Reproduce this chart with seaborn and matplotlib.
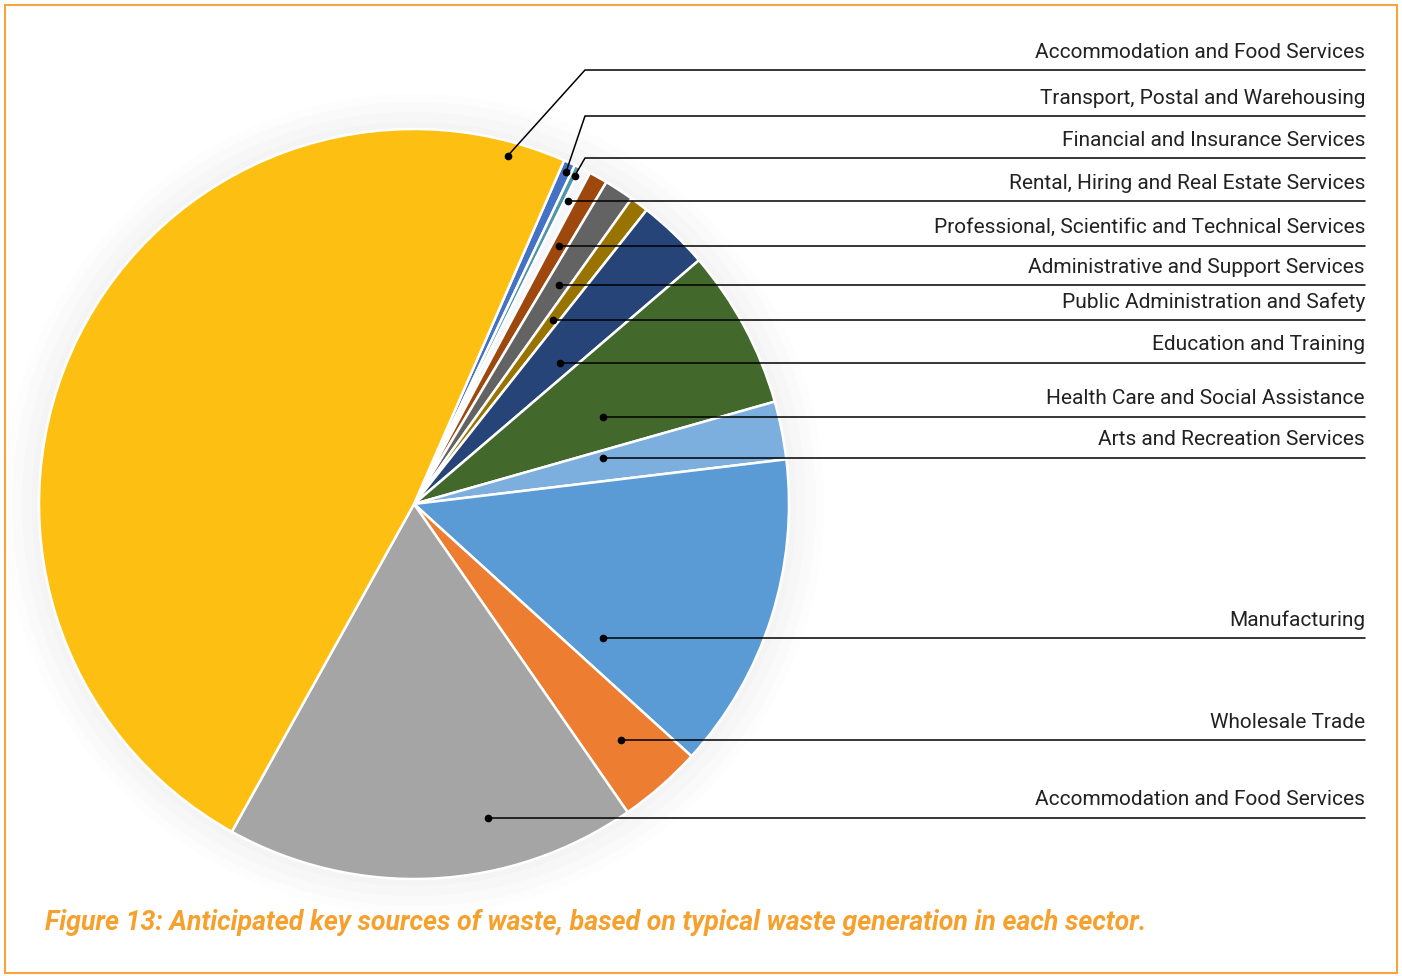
import matplotlib
matplotlib.use('Agg')
import matplotlib.pyplot as plt
import seaborn as sns
import numpy as np
from matplotlib.patches import Circle, Rectangle

sns.set_theme(style='white')
plt.rcParams['font.family'] = ['Roboto', 'DejaVu Sans']

# data, in clockwise order starting just right of the yellow slice
sectors = ['Transport, Postal and Warehousing',
           'Financial and Insurance Services',
           'Rental, Hiring and Real Estate Services',
           'Professional, Scientific and Technical Services',
           'Administrative and Support Services',
           'Public Administration and Safety',
           'Education and Training',
           'Health Care and Social Assistance',
           'Arts and Recreation Services',
           'Manufacturing',
           'Wholesale Trade',
           'Accommodation and Food Services',
           'Accommodation and Food Services']
shares = [0.50, 0.28, 0.44, 0.80, 1.28, 0.80, 3.08, 6.86, 2.50, 13.64, 3.61, 17.72, 48.47]
colors = ['#4472C4', '#4E95A8', '#F4F6FA', '#9E480E', '#636363', '#997300', '#264478',
          '#43682B', '#7CAFDD', '#5B9BD5', '#ED7D31', '#A5A5A5', '#FCBF12']

# label layout: where the dot sits inside each wedge (angle fraction, radius fraction)
dot_t = [0.56, 0.70, 0.34, 0.47, 0.60, 0.54, 0.68, 0.64, 0.24, 0.86, 0.50, 0.336, 0.951]
dot_r = [0.973, 0.975, 0.906, 0.79, 0.70, 0.615, 0.541, 0.555, 0.519, 0.618, 0.837, 0.86, 0.961]
bend_y = [116, 158, None, None, None, None, None, None, None, None, None, None, 70]  # px from top

W, H = 1402, 976
fig = plt.figure(figsize=(W / 100, H / 100), dpi=100)
ax = fig.add_axes([0, 0, 1, 1])

cx, cy, R = 414, H - 504, 375

# faint shadow ring round the pie
for r, c in [(410, '#fdfdfd'), (402, '#fafafa'), (392, '#f7f7f7'), (382, '#f4f4f4')]:
    ax.add_patch(Circle((cx, cy), r, color=c, lw=0, zorder=0))

wedges, _ = ax.pie(shares, colors=colors, startangle=66.4, counterclock=False,
                   center=(cx, cy), radius=R, frame=True,
                   wedgeprops=dict(edgecolor='white', linewidth=1.8))

x_end = 1365
for i, w in enumerate(wedges):
    ang = np.deg2rad(w.theta2 - dot_t[i] * (w.theta2 - w.theta1))
    px = cx + dot_r[i] * R * np.cos(ang)
    py = cy + dot_r[i] * R * np.sin(ang)
    ax.plot(px, py, 'o', color='black', ms=4.5, zorder=5)
    if bend_y[i] is None:
        ly = py
        ax.plot([px, x_end], [ly, ly], color='black', lw=1.1, zorder=4)
    else:
        ly = H - bend_y[i]
        ax.plot([px, 585, x_end], [py, ly, ly], color='black', lw=1.1, zorder=4)
    ax.text(x_end, ly + 18, sectors[i], ha='right', va='center', fontsize=15,
            fontweight='normal', color='#222222')

ax.set_xlim(0, W)
ax.set_ylim(0, H)
ax.set_aspect('equal')
ax.axis('off')

ax.add_patch(Rectangle((5, 3), W - 10, H - 8, fill=False, edgecolor='#F9A43A', lw=1.5, zorder=10))

fig.text(45 / W, 1 - 922 / H,
         'Figure 13: Anticipated key sources of waste, based on typical waste generation in each sector.',
         ha='left', va='center', fontsize=19.3, fontweight='bold', style='italic', color='#F6A02D')

plt.savefig('out.png', dpi=100)
